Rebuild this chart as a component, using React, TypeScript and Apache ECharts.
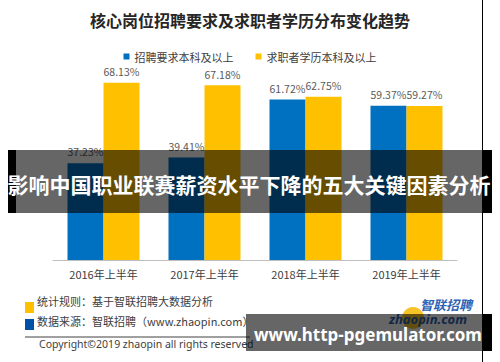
import React, { useEffect, useRef } from "react";
import * as echarts from "echarts";

const categories = ["2016年上半年", "2017年上半年", "2018年上半年", "2019年上半年"];
const requireValues = [37.23, 39.41, 61.72, 59.37];
const seekerValues = [68.13, 67.18, 62.75, 59.27];
const seriesNames = ["招聘要求本科及以上", "求职者学历本科及以上"];
const titleText = "核心岗位招聘要求及求职者学历分布变化趋势";
const noteRule = "统计规则：基于智联招聘大数据分析";
const noteSource = "数据来源：智联招聘（www.zhaopin.com）";
const copyright = "Copyright©2019 zhaopin all rights reserved";
const overlayTitle = "影响中国职业联赛薪资水平下降的五大关键因素分析";
const overlayUrl = "www.http-pgemulator.com";

const CJK = '"Noto Sans CJK SC", "Noto Sans", sans-serif';

export default function App() {
  const ref = useRef<HTMLDivElement>(null);
  useEffect(() => {
    document.body.style.margin = "0";
    const chart = echarts.init(ref.current!, null, { renderer: "svg" });
    const label = {
      show: true,
      position: "top" as const,
      distance: 6,
      fontSize: 10.5,
      color: "#595959",
      fontFamily: CJK,
      formatter: (p: any) => p.value.toFixed(2) + "%",
    };
    chart.setOption({
      animation: false,
      backgroundColor: "#ffffff",
      title: {
        text: titleText,
        left: "center",
        top: 7,
        textStyle: { fontSize: 16, fontWeight: "bold", color: "#262626", fontFamily: CJK },
      },
      legend: {
        top: 46,
        left: "center",
        icon: "rect",
        itemWidth: 6,
        itemHeight: 6,
        itemGap: 22,
        textStyle: { fontSize: 11, color: "#404040", fontFamily: CJK },
        data: seriesNames,
      },
      grid: { left: 53, right: 43, top: 52, bottom: 102, containLabel: false },
      xAxis: {
        type: "category",
        data: categories,
        axisLine: { lineStyle: { color: "#bfbfbf" } },
        axisTick: { show: false },
        axisLabel: { fontSize: 11, color: "#404040", margin: 8, fontFamily: CJK },
      },
      yAxis: { type: "value", min: 0, max: 80, show: false, splitLine: { show: false } },
      series: [
        {
          name: seriesNames[0],
          type: "bar",
          data: requireValues,
          barWidth: 36,
          barGap: "0%",
          itemStyle: { color: "#0070C0" },
          label,
        },
        {
          name: seriesNames[1],
          type: "bar",
          data: seekerValues,
          barWidth: 36,
          itemStyle: { color: "#FFC000" },
          label,
        },
      ],
      graphic: [
        { type: "rect", shape: { x: 25, y: 302, width: 9, height: 11 }, style: { fill: "#FFC000" } },
        { type: "rect", shape: { x: 25, y: 319, width: 9, height: 11 }, style: { fill: "#0050A8" } },
        {
          type: "text", x: 37, y: 301,
          style: { text: noteRule, fontSize: 11, fill: "#404040", fontFamily: CJK, verticalAlign: "middle" },
        },
        {
          type: "text", x: 37, y: 321,
          style: { text: noteSource, fontSize: 11, fill: "#404040", fontFamily: CJK, verticalAlign: "middle" },
        },
        { type: "line", shape: { x1: 25, y1: 337, x2: 250, y2: 337 }, style: { stroke: "#404040", lineWidth: 1 } },
        {
          type: "text", x: 39, y: 344,
          style: { text: copyright, fontSize: 10.5, fill: "#404040", fontFamily: '"Noto Sans", sans-serif', verticalAlign: "middle" },
        },
        { type: "circle", shape: { cx: 413, cy: 318, r: 11 }, style: { fill: "#F5B800", opacity: 0.85 } },
        {
          type: "text", x: 472, y: 304,
          style: { text: "智联招聘", fontSize: 13, fontWeight: "bold", fontStyle: "italic", fill: "#2E63B5", fontFamily: CJK, align: "right", verticalAlign: "middle" },
        },
        {
          type: "text", x: 467, y: 319,
          style: { text: "zhaopin.com", fontSize: 13, fontWeight: "bold", fontStyle: "italic", fill: "#2E63B5", fontFamily: '"Noto Sans", sans-serif', align: "right", verticalAlign: "middle" },
        },
        { type: "line", shape: { x1: 482.5, y1: 0, x2: 482.5, y2: 362 }, style: { stroke: "#000000", lineWidth: 1 } },
        // top overlay band
        { type: "rect", z: 100, shape: { x: 8, y: 150, width: 484, height: 63 }, style: { fill: "rgba(0,0,0,0.6)" } },
        { type: "rect", z: 101, shape: { x: 8, y: 150, width: 8, height: 63 }, style: { fill: "#000000" } },
        { type: "rect", z: 101, shape: { x: 482, y: 150, width: 10, height: 63 }, style: { fill: "#000000" } },
        {
          type: "text", z: 102, x: 249, y: 184,
          style: { text: overlayTitle, fontSize: 21, fontWeight: "bold", fill: "#ffffff", fontFamily: CJK, align: "center", verticalAlign: "middle" },
        },
        // bottom overlay band
        { type: "rect", z: 100, shape: { x: 246, y: 314, width: 246, height: 37 }, style: { fill: "rgba(0,0,0,0.6)" } },
        { type: "rect", z: 101, shape: { x: 482, y: 314, width: 10, height: 37 }, style: { fill: "#000000" } },
        {
          type: "text", z: 102, x: 368, y: 334,
          style: { text: overlayUrl, fontSize: 17, fontWeight: "bold", fill: "#ffffff", fontFamily: '"Noto Sans", sans-serif', align: "center", verticalAlign: "middle" },
        },
      ],
    });
    return () => chart.dispose();
  }, []);
  return <div ref={ref} style={{ position: "absolute", left: 0, top: 0, width: 500, height: 362 }} />;
}
